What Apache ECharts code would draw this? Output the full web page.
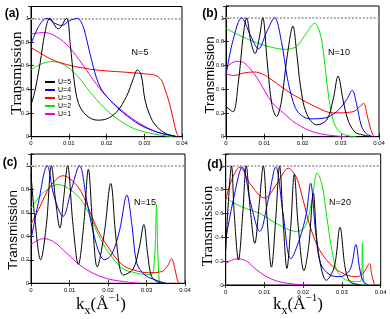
<!DOCTYPE html>
<html><head><meta charset="utf-8">
<script src="https://cdn.jsdelivr.net/npm/echarts@6/dist/echarts.min.js"></script>
<style>html,body{margin:0;padding:0;background:#fff}#c{width:390px;height:319px}</style>
</head><body><div id="c"></div>
<script>
const kxTicks = [0, 0.01, 0.02, 0.03, 0.04];
const yTicks = [0, 0.2, 0.4, 0.6, 0.8, 1];
const uLabels = ['U=5', 'U=4', 'U=3', 'U=2', 'U=1'];
const panelLabels = ['(a)', '(b)', '(c)', '(d)'];
const nLabels = ['N=5', 'N=10', 'N=15', 'N=20'];
const unitLevel = 1;

// panel (a) N=5
const a_U5 = [[0,0.27],[0.001,0.38],[0.0024,0.62],[0.0037,0.88],[0.005,1.0],[0.0072,0.91],[0.0094,1.0],[0.0104,0.78],[0.0114,0.48],[0.0126,0.28],[0.0147,0.18],[0.0175,0.14],[0.02,0.15],[0.0227,0.21],[0.0253,0.34],[0.0271,0.49],[0.0282,0.565],[0.0292,0.52],[0.0302,0.31],[0.0315,0.18],[0.0329,0.1],[0.0355,0.03],[0.0386,0]];
const a_U4 = [[0,0.78],[0.002,0.93],[0.0042,1.0],[0.0062,0.96],[0.0081,0.94],[0.0102,0.98],[0.0123,1.0],[0.0137,0.94],[0.0149,0.8],[0.0165,0.59],[0.0183,0.42],[0.0209,0.31],[0.0245,0.2],[0.0289,0.1],[0.0333,0.04],[0.0368,0.012],[0.039,0]];
const a_U3 = [[0,0.755],[0.005,0.66],[0.0094,0.61],[0.0139,0.58],[0.0183,0.56],[0.0227,0.55],[0.0271,0.54],[0.0305,0.53],[0.0328,0.52],[0.0345,0.48],[0.0355,0.4],[0.0365,0.3],[0.0373,0.2],[0.038,0.1],[0.0386,0.03],[0.0392,0]];
const a_U2 = [[0,0.565],[0.0024,0.61],[0.0055,0.635],[0.0086,0.61],[0.0121,0.52],[0.0156,0.38],[0.0192,0.25],[0.0227,0.155],[0.0271,0.07],[0.0315,0.03],[0.036,0.005],[0.0377,0]];
const a_U1 = [[0,0.867],[0.0033,0.88],[0.0059,0.86],[0.0094,0.78],[0.013,0.64],[0.0165,0.48],[0.02,0.34],[0.0245,0.21],[0.0289,0.11],[0.0333,0.04],[0.0368,0.012],[0.0386,0]];

// panel (b) N=10
const b_U5 = [[0,0.255],[0.0018,0.21],[0.0032,0.45],[0.0045,0.85],[0.0054,1.0],[0.0065,0.8],[0.0076,0.7],[0.0087,0.83],[0.0096,1.0],[0.0108,0.62],[0.012,0.27],[0.0132,0.17],[0.0145,0.3],[0.016,0.68],[0.0175,0.93],[0.0185,0.7],[0.0195,0.42],[0.021,0.2],[0.0237,0.1],[0.0263,0.14],[0.028,0.31],[0.0293,0.51],[0.0306,0.31],[0.0319,0.14],[0.0337,0.04],[0.0358,0.015],[0.038,0]];
const b_U4 = [[0,0.52],[0.0019,0.82],[0.0041,1.0],[0.0063,0.86],[0.0085,0.74],[0.0106,0.88],[0.0127,1.0],[0.0145,0.8],[0.016,0.5],[0.0175,0.3],[0.019,0.2],[0.022,0.15],[0.0254,0.155],[0.0289,0.21],[0.0315,0.31],[0.033,0.39],[0.0341,0.28],[0.0354,0.09],[0.0367,0.025],[0.038,0.005],[0.0384,0]];
const b_U3 = [[0,0.53],[0.002,0.515],[0.0045,0.535],[0.0072,0.545],[0.01,0.52],[0.0132,0.45],[0.0167,0.37],[0.0194,0.32],[0.0235,0.25],[0.028,0.2],[0.0332,0.21],[0.035,0.255],[0.036,0.28],[0.0369,0.18],[0.0376,0.09],[0.0384,0.015],[0.0389,0]];
const b_U2 = [[0,0.91],[0.0037,0.85],[0.008,0.79],[0.0123,0.75],[0.0155,0.735],[0.0184,0.76],[0.021,0.87],[0.0232,0.955],[0.0245,0.88],[0.0254,0.73],[0.0267,0.37],[0.028,0.14],[0.0297,0.04],[0.0323,0.005],[0.034,0]];
const b_U1 = [[0,0.58],[0.0015,0.62],[0.0029,0.635],[0.005,0.615],[0.008,0.5],[0.012,0.29],[0.015,0.2],[0.0184,0.11],[0.0228,0.04],[0.0271,0.012],[0.0315,0]];

// panel (c) N=15
const c_U5 = [[0,0.93],[0.001,0.55],[0.0025,0.2],[0.004,0.5],[0.0053,1.0],[0.0064,0.7],[0.0075,0.47],[0.0085,0.73],[0.0095,1.0],[0.0109,0.5],[0.0123,0.16],[0.0137,0.5],[0.0149,0.97],[0.016,0.5],[0.0172,0.14],[0.019,0.42],[0.0207,0.85],[0.0222,0.35],[0.024,0.07],[0.0265,0.12],[0.0281,0.3],[0.0293,0.5],[0.0303,0.25],[0.0313,0.06],[0.033,0.01],[0.035,0]];
const c_U4 = [[0,0.37],[0.002,0.7],[0.0042,1.0],[0.006,0.74],[0.0083,0.57],[0.0105,0.8],[0.0126,1.0],[0.0145,0.7],[0.017,0.33],[0.0191,0.2],[0.021,0.25],[0.023,0.45],[0.0249,0.75],[0.0262,0.5],[0.0275,0.17],[0.0296,0.07],[0.0322,0.03],[0.035,0]];
const c_U3 = [[0,0.5],[0.0023,0.65],[0.0049,0.82],[0.0083,0.915],[0.0122,0.82],[0.0148,0.65],[0.0174,0.45],[0.02,0.31],[0.0236,0.16],[0.027,0.11],[0.0305,0.09],[0.034,0.1],[0.0355,0.15],[0.0365,0.21],[0.0374,0.12],[0.038,0.03],[0.0385,0]];
const c_U2 = [[0,0.64],[0.0032,0.77],[0.007,0.84],[0.0122,0.74],[0.0148,0.61],[0.0174,0.42],[0.02,0.27],[0.0236,0.13],[0.027,0.09],[0.03,0.075],[0.0315,0.08],[0.0319,0.13],[0.0323,0.35],[0.0326,0.67],[0.0329,0.3],[0.0333,0.02],[0.0336,0]];
const c_U1 = [[0,0.33],[0.0032,0.38],[0.0058,0.355],[0.0093,0.255],[0.0127,0.155],[0.0162,0.085],[0.0197,0.04],[0.024,0.015],[0.0283,0]];

// panel (d) N=20
const d_U5 = [[0,0.29],[0.0007,0.7],[0.0015,1.0],[0.0022,0.6],[0.0033,0.21],[0.0044,0.6],[0.0053,1.0],[0.0063,0.65],[0.0075,0.35],[0.0087,0.7],[0.0097,1.0],[0.0107,0.55],[0.0118,0.15],[0.0129,0.55],[0.0139,1.0],[0.0148,0.55],[0.0158,0.14],[0.0168,0.5],[0.0177,0.93],[0.0187,0.5],[0.0202,0.12],[0.0215,0.35],[0.0226,0.77],[0.0238,0.3],[0.026,0.04],[0.028,0.15],[0.0295,0.485],[0.0308,0.15],[0.032,0.03],[0.034,0.005],[0.035,0]];
const d_U4 = [[0,0.38],[0.002,0.72],[0.0043,0.99],[0.0065,0.68],[0.0088,0.45],[0.011,0.72],[0.0129,0.99],[0.0148,0.6],[0.0168,0.22],[0.019,0.38],[0.0208,0.6],[0.0219,0.855],[0.0232,0.45],[0.0245,0.18],[0.0269,0.085],[0.0295,0.07],[0.0321,0.13],[0.0336,0.34],[0.0345,0.15],[0.0355,0.03],[0.0368,0]];
const d_U3 = [[0,0.71],[0.0015,0.88],[0.0037,0.99],[0.0063,0.85],[0.0101,0.73],[0.0132,0.85],[0.0162,0.98],[0.0183,0.9],[0.02,0.71],[0.0218,0.49],[0.0243,0.29],[0.0278,0.15],[0.0312,0.085],[0.0338,0.07],[0.0355,0.1],[0.0371,0.18],[0.0377,0.085],[0.0383,0.015],[0.0386,0]];
const d_U2 = [[0,0.74],[0.002,0.69],[0.0054,0.64],[0.0089,0.6],[0.0123,0.53],[0.0166,0.46],[0.0183,0.45],[0.0205,0.49],[0.0222,0.7],[0.0236,0.94],[0.0248,0.85],[0.0261,0.57],[0.0274,0.29],[0.0286,0.13],[0.0304,0.055],[0.033,0.03],[0.0348,0.03],[0.0351,0.1],[0.0353,0.355],[0.0355,0.1],[0.0357,0.02],[0.036,0]];
const d_U1 = [[0,0.18],[0.0028,0.22],[0.0054,0.2],[0.008,0.126],[0.0114,0.056],[0.0149,0.02],[0.0192,0.003],[0.022,0]];

const panels = [
  [a_U5, a_U4, a_U3, a_U2, a_U1],
  [b_U5, b_U4, b_U3, b_U2, b_U1],
  [c_U5, c_U4, c_U3, c_U2, c_U1],
  [d_U5, d_U4, d_U3, d_U2, d_U1]
];

const colors = ['#000000', '#0000ff', '#ff0000', '#00e600', '#e600e6'];
const grids = [
  {left: 31, top: 6.5, width: 151, height: 130.2},
  {left: 226, top: 6, width: 153, height: 130.7},
  {left: 31, top: 154, width: 154, height: 129.3},
  {left: 225.7, top: 154, width: 155, height: 131}
];

const xAxes = [], yAxes = [], series = [];
grids.forEach((g, i) => {
  const common = {gridIndex: i, type: 'value', splitLine: {show: false},
    axisLine: {show: true, lineStyle: {color: '#000', width: 1}},
    axisTick: {show: true, inside: true, length: 3, lineStyle: {color: '#000', width: 0.8}}};
  xAxes.push(Object.assign({}, common, {position: 'bottom', min: kxTicks[0], max: kxTicks[kxTicks.length - 1], interval: kxTicks[1] - kxTicks[0],
    axisLabel: {fontSize: 6, margin: 4, color: '#000', fontFamily: 'Liberation Sans',
      formatter: v => v === 0 ? '0' : (+v.toFixed(2)).toString()}}));
  xAxes.push(Object.assign({}, common, {position: 'top', min: kxTicks[0], max: kxTicks[kxTicks.length - 1], interval: kxTicks[1] - kxTicks[0], axisLabel: {show: false}}));
  yAxes.push(Object.assign({}, common, {position: 'left', min: 0, max: 1.1, interval: yTicks[1] - yTicks[0],
    axisLabel: {fontSize: 6, margin: 2, color: '#222', fontFamily: 'Liberation Sans',
      formatter: v => v > 1.05 ? '' : (v === 0 ? '0' : (+v.toFixed(1)).toString())}}));
  yAxes.push(Object.assign({}, common, {position: 'right', min: 0, max: 1.1, interval: yTicks[1] - yTicks[0], axisLabel: {show: false}}));
  panels[i].forEach((d, k) => {
    const s = {name: uLabels[k], type: 'line', xAxisIndex: 2 * i, yAxisIndex: 2 * i, data: d,
      smooth: 0.35, symbol: 'none', showSymbol: false, clip: true,
      lineStyle: {color: colors[k], width: 1}, itemStyle: {color: colors[k]}, z: 3 + (4 - k)};
    if (k === 0) {
      s.markLine = {silent: true, symbol: 'none', label: {show: false},
        lineStyle: {color: '#a8a8a8', width: 1.8, type: 'dotted'}, data: [{yAxis: unitLevel}]};
    }
    series.push(s);
  });
});

const gridOpts = grids.map(g => Object.assign({show: true, borderColor: '#000', borderWidth: 1, backgroundColor: '#fff', containLabel: false}, g));

function txt(x, y, text, font, rot) {
  return {type: 'text', x: x, y: y, rotation: rot || 0, silent: true,
    style: {text: text, font: font, fill: '#000', align: 'center', verticalAlign: 'middle', textAlign: 'center', textVerticalAlign: 'middle'}};
}
const richTitle = {
  k: {fontSize: 17, fontFamily: 'Liberation Serif', lineHeight: 24, fill: '#000', color: '#000'},
  s: {fontSize: 12, fontFamily: 'Liberation Serif', lineHeight: 12, verticalAlign: 'bottom', fill: '#000', color: '#000'},
  p: {fontSize: 11, fontFamily: 'Liberation Serif', lineHeight: 11, verticalAlign: 'top', fill: '#000', color: '#000'}
};
function xTitle(x, y) {
  return {type: 'text', x: x, y: y, silent: true,
    style: {text: '{k|k}{s|x}{k|(Å}{p|−1}{k|)}', rich: richTitle, align: 'center', verticalAlign: 'middle', textAlign: 'center', textVerticalAlign: 'middle'}};
}

const graphics = [
  txt(12, 14, panelLabels[0], 'bold 12px "Liberation Sans"'),
  txt(210, 14, panelLabels[1], 'bold 12px "Liberation Sans"'),
  txt(10, 163, panelLabels[2], 'bold 12px "Liberation Sans"'),
  txt(215, 165, panelLabels[3], 'bold 12px "Liberation Sans"'),
  txt(140, 53, nLabels[0], '9px "Liberation Sans"'),
  txt(339, 53, nLabels[1], '9px "Liberation Sans"'),
  txt(145, 203, nLabels[2], '9px "Liberation Sans"'),
  txt(340, 203, nLabels[3], '9px "Liberation Sans"'),
  txt(17, 73, 'Transmission', '15.5px "Liberation Serif"', Math.PI / 2),
  txt(210, 75, 'Transmission', '13px "Liberation Sans"', Math.PI / 2),
  txt(13, 230, 'Transmission', '13.5px "Liberation Sans"', Math.PI / 2),
  txt(208, 226, 'Transmission', '15px "Liberation Serif"', Math.PI / 2),
  xTitle(101, 305),
  xTitle(298, 305)
];

const chart = echarts.init(document.getElementById('c'), null, {renderer: 'canvas'});
chart.setOption({
  animation: false,
  backgroundColor: '#fff',
  grid: gridOpts,
  xAxis: xAxes,
  yAxis: yAxes,
  legend: {data: uLabels, orient: 'vertical', left: 45, top: 78, padding: 0, itemGap: 0,
    itemWidth: 10, itemHeight: 2, icon: 'rect', selectedMode: false,
    textStyle: {fontSize: 7, lineHeight: 8, color: '#000', fontFamily: 'Liberation Sans', padding: [0, 0, 0, -2]}},
  series: series,
  graphic: graphics
});
</script></body></html>
